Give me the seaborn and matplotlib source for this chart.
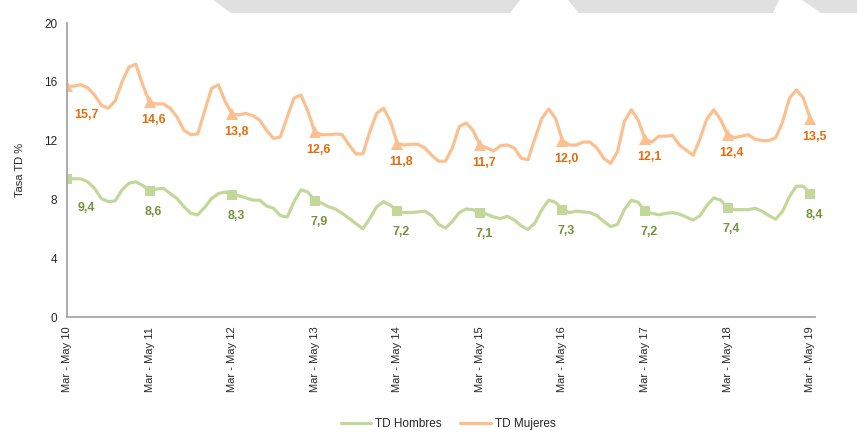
import numpy as np
import pandas as pd
import matplotlib
matplotlib.use("Agg")
import matplotlib.pyplot as plt
import seaborn as sns
from matplotlib.lines import Line2D
from matplotlib.patches import Polygon

# monthly rolling quarters, Mar-May 2010 ... Mar-May 2019
tick_labels = ["Mar - May 10", "Mar - May 11", "Mar - May 12", "Mar - May 13",
               "Mar - May 14", "Mar - May 15", "Mar - May 16", "Mar - May 17",
               "Mar - May 18", "Mar - May 19"]

td_mujeres = [
    15.7, 15.7, 15.8, 15.6, 15.1, 14.4, 14.2, 14.7, 16.0, 17.0, 17.2, 15.8,
    14.6, 14.5, 14.5, 14.2, 13.6, 12.7, 12.4, 12.45, 14.0, 15.55, 15.8, 14.65,
    13.8, 13.75, 13.85, 13.7, 13.4, 12.7, 12.15, 12.25, 13.6, 14.9, 15.1, 14.0,
    12.6, 12.4, 12.4, 12.45, 12.4, 11.7, 11.1, 11.1, 12.6, 13.85, 14.2, 13.3,
    11.8, 11.7, 11.75, 11.75, 11.5, 11.0, 10.6, 10.6, 11.5, 12.95, 13.2, 12.7,
    11.7, 11.5, 11.3, 11.65, 11.7, 11.5, 10.8, 10.7, 12.15, 13.5, 14.15, 13.5,
    12.0, 11.7, 11.7, 11.9, 11.9, 11.5, 10.8, 10.45, 11.25, 13.3, 14.1, 13.4,
    12.1, 11.9, 12.3, 12.3, 12.35, 11.7, 11.35, 11.0, 12.15, 13.5, 14.1, 13.4,
    12.4, 12.2, 12.3, 12.4, 12.1, 12.0, 12.0, 12.2, 13.3, 14.9, 15.45, 14.9,
    13.5,
]

td_hombres = [
    9.4, 9.4, 9.4, 9.2, 8.75, 8.05, 7.85, 7.9, 8.65, 9.1, 9.2, 8.95,
    8.6, 8.7, 8.75, 8.4, 8.05, 7.5, 7.05, 6.95, 7.45, 8.05, 8.4, 8.5,
    8.3, 8.25, 8.1, 7.95, 7.95, 7.55, 7.4, 6.9, 6.8, 7.85, 8.65, 8.5,
    7.9, 7.75, 7.5, 7.35, 7.05, 6.7, 6.35, 6.0, 6.7, 7.5, 7.85, 7.6,
    7.2, 7.1, 7.1, 7.15, 7.2, 6.9, 6.3, 6.05, 6.5, 7.1, 7.35, 7.3,
    7.1, 7.0, 6.8, 6.7, 6.85, 6.6, 6.2, 5.95, 6.4, 7.3, 7.95, 7.8,
    7.3, 7.1, 7.2, 7.15, 7.1, 6.9, 6.5, 6.15, 6.3, 7.3, 7.95, 7.8,
    7.2, 7.05, 6.95, 7.05, 7.1, 7.0, 6.8, 6.6, 6.9, 7.6, 8.1, 7.95,
    7.4, 7.3, 7.3, 7.3, 7.4, 7.2, 6.9, 6.65, 7.2, 8.2, 8.9, 8.9,
    8.4,
]

GREEN = "#C4D79B"
ORANGE = "#FAC090"
GREEN_TXT = "#77933C"
ORANGE_TXT = "#E46C0A"
AXIS_COL = "#A6A6A6"

sns.set_style("white")
plt.rcParams['font.family'] = ['Liberation Sans', 'DejaVu Sans']

df = pd.DataFrame({
    "periodo": np.arange(len(td_mujeres)),
    "TD Hombres": td_hombres,
    "TD Mujeres": td_mujeres,
})

W, H = 857, 436
fig = plt.figure(figsize=(W / 100, H / 100), dpi=100)
ax = fig.add_axes([67 / W, 1 - 317 / H, (815 - 67) / W, (317 - 23) / H])

line_kw = dict(lw=2.3, markevery=12, markeredgewidth=0,
               solid_joinstyle="round", solid_capstyle="round")
sns.lineplot(data=df, x="periodo", y="TD Hombres", ax=ax, color=GREEN,
             marker="s", markersize=7, **line_kw)
sns.lineplot(data=df, x="periodo", y="TD Mujeres", ax=ax, color=ORANGE,
             marker="^", markersize=8, **line_kw)

def fmt(v):
    return f"{v:.1f}".replace(".", ",")

for k, idx in enumerate(range(0, len(td_mujeres), 12)):
    dx = 19 if k == 0 else 4
    ax.annotate(fmt(td_mujeres[idx]), (idx, td_mujeres[idx]),
                xytext=(dx, -29 if k == 0 else -18), textcoords="offset pixels",
                ha="center", va="center", color=ORANGE_TXT,
                fontsize=9, fontweight="bold")
    ax.annotate(fmt(td_hombres[idx]), (idx, td_hombres[idx]),
                xytext=(dx, -29 if k == 0 else -21), textcoords="offset pixels",
                ha="center", va="center", color=GREEN_TXT,
                fontsize=9, fontweight="bold")

ax.set_xlim(0, 108.7)
ax.set_ylim(0, 20)
ax.set_yticks(range(0, 21, 4))
ax.set_xticks(range(0, len(td_mujeres), 12))
ax.set_xticklabels(tick_labels, rotation=90, fontsize=8, color="#262626")
ax.tick_params(axis="y", labelsize=8.5, labelcolor="#262626")
ax.tick_params(direction="out", length=5, width=1, color=AXIS_COL, pad=2)
ax.set_xlabel("")
ax.set_ylabel("Tasa TD %", fontsize=8, color="#262626", labelpad=14)

for s in ["top", "right"]:
    ax.spines[s].set_visible(False)
for s in ["left", "bottom"]:
    ax.spines[s].set_color(AXIS_COL)
    ax.spines[s].set_linewidth(1.3)

handles = [Line2D([], [], color=GREEN, lw=2.3), Line2D([], [], color=ORANGE, lw=2.3)]
fig.legend(handles, ["TD Hombres", "TD Mujeres"], loc="center",
           bbox_to_anchor=(448 / W, 1 - 424 / H), ncol=2, frameon=False,
           fontsize=8.5, handlelength=2.6, handletextpad=0.3, columnspacing=1.6)

# grey banner at the top of the slide
def fpt(x, y):
    return (x / W, 1 - y / H)

banner = [
    [fpt(213, 0), fpt(520, 0), fpt(510, 13), fpt(231, 13)],
    [fpt(568, 0), fpt(779, 0), fpt(773, 13), fpt(579, 13)],
    [fpt(802, 0), fpt(857, 0), fpt(857, 13), fpt(821, 13)],
]
for pts in banner:
    fig.patches.append(Polygon(pts, closed=True, transform=fig.transFigure,
                               facecolor="#E0E0E0", edgecolor="none", zorder=0))

fig.savefig("out.png", dpi=100)
